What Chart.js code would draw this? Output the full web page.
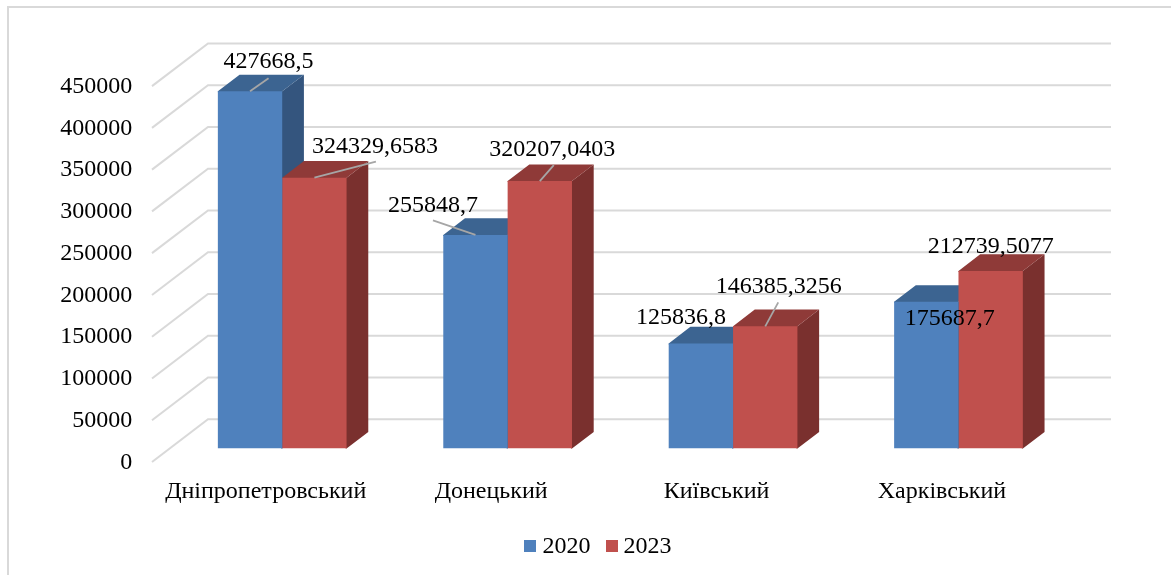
<!DOCTYPE html>
<html lang="uk">
<head>
    <meta charset="UTF-8">
    <title>Chart</title>
    <script src="https://cdn.jsdelivr.net/npm/chart.js"></script>
    <style>
        body { margin: 0; background: #fff; }
        canvas { display: block; }
    </style>
</head>
<body>
    <canvas id="chartCanvas" width="1171" height="575"></canvas>

    <script>
        const regions = ['Дніпропетровський', 'Донецький', 'Київський', 'Харківський'];
        const values2020 = [427668.5, 255848.7, 125836.8, 175687.7];
        const values2023 = [324329.6583, 320207.0403, 146385.3256, 212739.5077];
        const yTicks = [0, 50000, 100000, 150000, 200000, 250000, 300000, 350000, 400000, 450000];

        const serif = '"Liberation Serif", "Times New Roman", serif';
        const gridColor = '#d9d9d9';

        // oblique "3D" look: how far the side/top faces go back from the bar front
        const depthX = 21.7;
        const depthY = 16.7;
        // wall gridlines relative to the plane the bars stand in
        const wallOffset = -29.3;
        const frontOffset = 13.4;
        const wallLeft = 208;
        const frontLeft = 152;
        const wallRight = 1111;

        // label placement per dataset, relative to the top centre of each bar
        // [text dx, text dy, leader end dx, leader end dy] - no leader if the last two are null
        const labelPlacement = [
            [[18.5, -30, 18.5, -13], [-42.5, -29, -42.5, -14.5], [-20, -25.5, null, null], [23.5, 16.7, null, null]],
            [[60.5, -31, 61.5, -16], [12.5, -31.5, 14, -16], [13.5, -40, 13, -24], [0, -24.5, null, null]]
        ];

        function face(ctx, color, points) {
            ctx.fillStyle = color;
            ctx.beginPath();
            points.forEach((p, i) => i ? ctx.lineTo(p[0], p[1]) : ctx.moveTo(p[0], p[1]));
            ctx.closePath();
            ctx.fill();
        }

        function swatch(color) {
            const c = document.createElement('canvas');
            c.width = 12;
            c.height = 12;
            const g = c.getContext('2d');
            g.fillStyle = color;
            g.fillRect(0, 0, 12, 12);
            return c;
        }

        const wallPlugin = {
            id: 'wall',
            beforeDraw(chart) {
                const ctx = chart.ctx;
                const y = chart.scales.y;
                ctx.save();
                ctx.fillStyle = '#fff';
                ctx.fillRect(0, 0, chart.width, chart.height);
                // outer chart frame
                ctx.strokeStyle = gridColor;
                ctx.lineWidth = 2;
                ctx.beginPath();
                ctx.moveTo(8, chart.height);
                ctx.lineTo(8, 7);
                ctx.lineTo(chart.width, 7);
                ctx.stroke();
                yTicks.forEach(t => {
                    const py = y.getPixelForValue(t);
                    ctx.beginPath();
                    ctx.moveTo(frontLeft, py + frontOffset);
                    ctx.lineTo(wallLeft, py + wallOffset);
                    ctx.lineTo(wallRight, py + wallOffset);
                    ctx.stroke();
                });
                ctx.restore();
            }
        };

        const depthPlugin = {
            id: 'depth',
            beforeDatasetsDraw(chart) {
                const ctx = chart.ctx;
                chart.data.datasets.forEach((ds, i) => {
                    chart.getDatasetMeta(i).data.forEach(bar => {
                        const l = bar.x - bar.width / 2;
                        const r = bar.x + bar.width / 2;
                        // faces run 1px under the front so no white seam shows at the edge
                        face(ctx, ds.sideColor, [[r - 1, bar.y], [r, bar.y], [r + depthX, bar.y - depthY], [r + depthX, bar.base - depthY], [r, bar.base], [r - 1, bar.base]]);
                        face(ctx, ds.topColor, [[l, bar.y + 1], [l, bar.y], [l + depthX, bar.y - depthY], [r + depthX, bar.y - depthY], [r, bar.y], [r, bar.y + 1]]);
                    });
                });
            }
        };

        const labelPlugin = {
            id: 'valueLabels',
            afterDatasetsDraw(chart) {
                const ctx = chart.ctx;
                ctx.save();
                ctx.textAlign = 'center';
                ctx.textBaseline = 'middle';
                ctx.font = '24px ' + serif;
                chart.data.datasets.forEach((ds, i) => {
                    chart.getDatasetMeta(i).data.forEach((bar, j) => {
                        const p = labelPlacement[i][j];
                        if (p[2] !== null) {
                            ctx.strokeStyle = '#a6a6a6';
                            ctx.lineWidth = 1.8;
                            ctx.beginPath();
                            ctx.moveTo(bar.x, bar.y);
                            ctx.lineTo(bar.x + p[2], bar.y + p[3]);
                            ctx.stroke();
                        }
                        ctx.fillStyle = '#000';
                        ctx.fillText(String(ds.data[j]).replace('.', ','), bar.x + p[0], bar.y + p[1]);
                    });
                });
                ctx.restore();
            }
        };

        new Chart(document.getElementById('chartCanvas'), {
            type: 'bar',
            data: {
                labels: regions,
                datasets: [
                    { label: '2020', data: values2020, backgroundColor: '#4f81bd', sideColor: '#34557e', topColor: '#3c6491' },
                    { label: '2023', data: values2023, backgroundColor: '#c0504d', sideColor: '#7a302e', topColor: '#8f3a38' }
                ]
            },
            options: {
                responsive: false,
                animation: false,
                layout: { padding: { left: 31, right: 0, top: 72.7, bottom: 6.7 } },
                categoryPercentage: 0.571,
                barPercentage: 1,
                scales: {
                    x: {
                        grid: { display: false, drawTicks: false },
                        border: { display: false },
                        afterFit: s => { s.height = 64.7; },
                        ticks: {
                            color: '#000',
                            font: { family: serif, size: 24 },
                            padding: 29,
                            labelOffset: -16.5,
                            maxRotation: 0,
                            autoSkip: false
                        }
                    },
                    y: {
                        min: 0,
                        max: 450000,
                        grid: { display: false, drawTicks: false },
                        border: { display: false },
                        afterFit: s => { s.width = 138.5; },
                        ticks: {
                            stepSize: 50000,
                            color: '#000',
                            font: { family: serif, size: 24 },
                            padding: 37.2,
                            labelOffset: frontOffset + 0.5,
                            callback: v => String(v)
                        }
                    },
                    // empty axis, only keeps the plot off the right edge so the legend can stay centred on the full width
                    spacer: {
                        position: 'right',
                        grid: { display: false, drawTicks: false },
                        border: { display: false },
                        ticks: { display: false },
                        afterFit: s => { s.width = 99.8; }
                    }
                },
                plugins: {
                    tooltip: { enabled: false },
                    legend: {
                        position: 'bottom',
                        labels: {
                            color: '#000',
                            font: { family: serif, size: 24 },
                            usePointStyle: true,
                            pointStyleWidth: 0.1,
                            boxHeight: 12,
                            padding: 21,
                            generateLabels: chart => chart.data.datasets.map((ds, i) => ({
                                text: ds.label,
                                datasetIndex: i,
                                fontColor: '#000',
                                lineWidth: 0,
                                pointStyle: swatch(ds.backgroundColor)
                            }))
                        }
                    }
                }
            },
            plugins: [wallPlugin, depthPlugin, labelPlugin]
        });
    </script>
</body>
</html>
